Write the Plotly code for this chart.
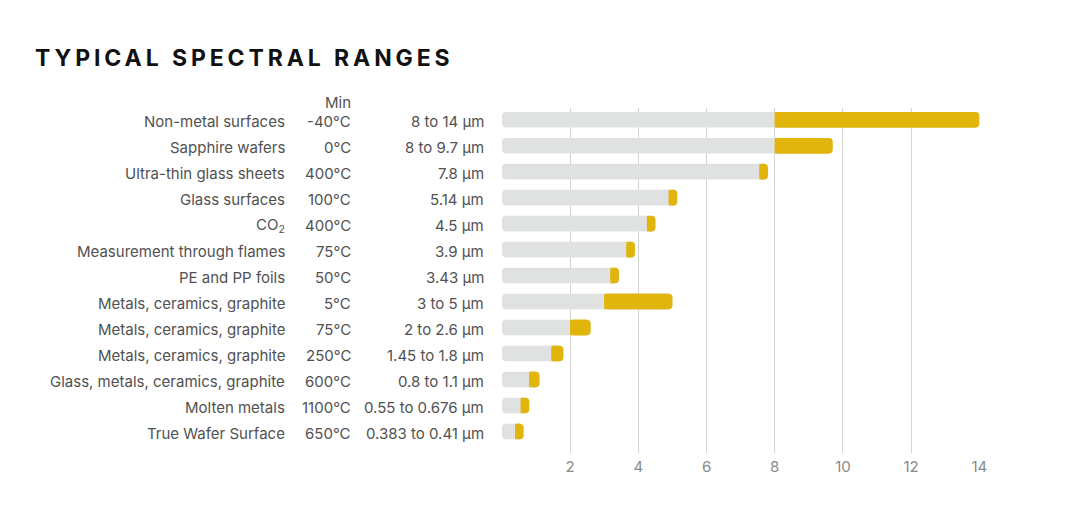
import plotly.graph_objects as go

# ---------------- data ----------------
materials = [
    "Non-metal surfaces", "Sapphire wafers", "Ultra-thin glass sheets", "Glass surfaces",
    "CO<sub>2</sub>", "Measurement through flames", "PE and PP foils",
    "Metals, ceramics, graphite", "Metals, ceramics, graphite", "Metals, ceramics, graphite",
    "Glass, metals, ceramics, graphite", "Molten metals", "True Wafer Surface",
]
min_temps = ["-40°C", "0°C", "400°C", "100°C", "400°C", "75°C", "50°C",
             "5°C", "75°C", "250°C", "600°C", "1100°C", "650°C"]
range_labels = ["8 to 14 µm", "8 to 9.7 µm", "7.8 µm", "5.14 µm", "4.5 µm", "3.9 µm",
                "3.43 µm", "3 to 5 µm", "2 to 2.6 µm", "1.45 to 1.8 µm", "0.8 to 1.1 µm",
                "0.55 to 0.676 µm", "0.383 to 0.41 µm"]
wl_low = [8, 8, None, None, None, None, None, 3, 2, 1.45, 0.8, 0.55, 0.383]
wl_high = [14, 9.7, 7.8, 5.14, 4.5, 3.9, 3.43, 5, 2.6, 1.8, 1.1, 0.676, 0.41]
x_ticks = [2, 4, 6, 8, 10, 12, 14]

# ---------------- style ----------------
GREY = "#e0e1e1"
GOLD = "#e1b50b"
TEXT = "#515151"
FONT = "Inter"
CAP = 0.25           # minimum visible width of the gold end, in axis units
RADIUS = 4           # px
OFF = 8              # page body margin
FIG_W, FIG_H = 1080 - OFF, 530 - OFF
PLOT_L, PLOT_R = 502 - OFF, 980 - OFF
PLOT_T, PLOT_B = 108 - OFF, 453 - OFF
X_MAX = 14.02
PX_PER_UNIT = (PLOT_R - PLOT_L) / X_MAX
R_DATA = RADIUS / PX_PER_UNIT

n = len(materials)
ys = list(range(n))

gold_start = []
for lo, hi in zip(wl_low, wl_high):
    if lo is None or hi - lo < CAP:
        gold_start.append(hi - CAP if lo is None else lo)
    else:
        gold_start.append(lo)
gold_end = [max(hi, gs + CAP) for gs, hi in zip(gold_start, wl_high)]

fig = go.Figure()
BW = 0.6
fig.add_trace(go.Bar(y=ys, x=gold_end, base=[0] * n, orientation="h", width=BW,
                     marker=dict(color=GREY, cornerradius=RADIUS, line=dict(width=0)),
                     hoverinfo="skip", showlegend=False))
fig.add_trace(go.Bar(y=ys, x=[e - s for s, e in zip(gold_start, gold_end)], base=gold_start,
                     orientation="h", width=BW,
                     marker=dict(color=GOLD, cornerradius=RADIUS, line=dict(width=0)),
                     hoverinfo="skip", showlegend=False))
fig.add_trace(go.Bar(y=ys, x=[max(e - s - R_DATA, 0) for s, e in zip(gold_start, gold_end)],
                     base=gold_start, orientation="h", width=BW,
                     marker=dict(color=GOLD, cornerradius=0, line=dict(width=0)),
                     hoverinfo="skip", showlegend=False))

W = PLOT_R - PLOT_L
H = PLOT_B - PLOT_T
def px_to_paper(p):
    return (p - OFF - PLOT_L) / W

def py_to_paper(p):
    return (PLOT_B - (p - OFF)) / H

annotations = []
for i in range(n):
    annotations.append(dict(x=px_to_paper(287), y=i + 0.06, xref="paper", yref="y", text=materials[i],
                            xanchor="right", yanchor="middle", showarrow=False,
                            font=dict(family=FONT, size=15, color=TEXT)))
    annotations.append(dict(x=px_to_paper(353), y=i + 0.06, xref="paper", yref="y", text=min_temps[i],
                            xanchor="right", yanchor="middle", showarrow=False,
                            font=dict(family=FONT, size=15, color=TEXT)))
    annotations.append(dict(x=px_to_paper(486), y=i + 0.06, xref="paper", yref="y", text=range_labels[i],
                            xanchor="right", yanchor="middle", showarrow=False,
                            font=dict(family=FONT, size=15, color=TEXT)))
annotations.append(dict(x=px_to_paper(353), y=py_to_paper(102), xref="paper", yref="paper",
                        text="Min", xanchor="right", yanchor="middle", showarrow=False,
                        font=dict(family=FONT, size=15, color=TEXT)))

fig.update_layout(
    width=FIG_W, height=FIG_H,
    paper_bgcolor="white", plot_bgcolor="white",
    barmode="overlay",
    margin=dict(l=PLOT_L, r=FIG_W - PLOT_R, t=PLOT_T, b=FIG_H - PLOT_B, pad=0),
    title=dict(text='<span style="letter-spacing:3.9px">TYPICAL SPECTRAL RANGES</span>',
               x=(35 - OFF) / FIG_W, xref="container", xanchor="left",
               y=1 - (58 - OFF) / FIG_H, yref="container", yanchor="middle",
               font=dict(family="Inter", size=23, color="#111111", weight="bold")),
    xaxis=dict(range=[0, X_MAX], tickvals=x_ticks, showgrid=True, gridcolor="#d4d4d4",
               gridwidth=1, zeroline=False, showline=False, ticks="", ticklabelstandoff=3,
               tickfont=dict(family=FONT, size=15, color="#8a8a8a")),
    yaxis=dict(range=[12.83, -0.45], showticklabels=False, showgrid=False, zeroline=False,
               showline=False, ticks=""),
    annotations=annotations,
)

fig.write_html("out.html")
